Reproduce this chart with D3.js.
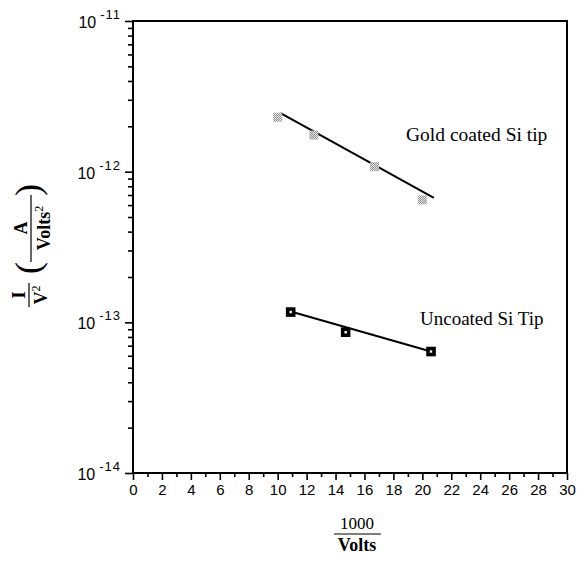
<!DOCTYPE html>
<html>
<head>
<meta charset="utf-8">
<script src="https://cdn.jsdelivr.net/npm/d3@7"></script>
<style>
  body { margin: 0; background: #fff; }
  svg { display: block; }
</style>
</head>
<body>
<svg id="chart" width="580" height="562"></svg>
<script>
// data
var goldX = [10.0, 12.5, 16.7, 20.0]
var goldY = [2.3e-12, 1.75e-12, 1.08e-12, 6.5e-13]
var goldFitX = [10.2, 20.8]
var goldFitY = [2.45e-12, 6.7e-13]

var uncX = [10.9, 14.7, 20.6]
var uncY = [1.17e-13, 8.6e-14, 6.4e-14]
var uncFitX = [10.9, 20.6]
var uncFitY = [1.18e-13, 6.4e-14]

var xTicks = [0, 2, 4, 6, 8, 10, 12, 14, 16, 18, 20, 22, 24, 26, 28, 30]
var yExponents = [-14, -13, -12, -11]

// note: "top" is a read-only window global, so use other names
var svg = d3.select("#chart"),
    plotL = 133, plotR = 567, plotT = 21, plotB = 473

var x = d3.scaleLinear().domain([0, 30]).range([plotL, plotR])
var y = d3.scaleLog().domain([1e-14, 1e-11]).range([plotB, plotT])

// hatch pattern for gold markers
var defs = svg.append("defs")
var pat = defs.append("pattern")
  .attr("id", "hatch").attr("width", 2).attr("height", 2)
  .attr("patternUnits", "userSpaceOnUse")
pat.append("rect").attr("width", 2).attr("height", 2).attr("fill", "#e6e6e6")
pat.append("rect").attr("width", 1).attr("height", 1).attr("fill", "#909090")
pat.append("rect").attr("x", 1).attr("y", 1).attr("width", 1).attr("height", 1).attr("fill", "#909090")

// minor + major ticks on y
var yMinor = []
for (var e = -14; e < -11; e++) {
  for (var m = 2; m <= 9; m++) yMinor.push(m * Math.pow(10, e))
}
var yMajor = yExponents.map(function(e) { return Math.pow(10, e) })

svg.append("g")
  .attr("transform", "translate(" + plotL + ",0)")
  .call(d3.axisLeft(y).tickValues(yMinor).tickSize(5).tickFormat(""))
  .call(function(g) { g.select(".domain").remove() })
  .selectAll("line").attr("stroke-width", 1.6)

svg.append("g")
  .attr("transform", "translate(" + plotL + ",0)")
  .call(d3.axisLeft(y).tickValues(yMajor).tickSize(8).tickFormat(""))
  .call(function(g) { g.select(".domain").remove() })
  .selectAll("line").attr("stroke-width", 1.6)

// y tick labels 10^n
var ylab = svg.append("g")
  .selectAll("text")
  .data(yExponents)
  .enter()
  .append("text")
  .attr("x", 121)
  .attr("y", function(d) { return y(Math.pow(10, d)) + 7 })
  .attr("text-anchor", "end")
  .attr("font-family", "'Liberation Sans', Arial, sans-serif")
  .attr("font-size", "16px")
ylab.append("tspan").text("10")
ylab.append("tspan")
  .attr("dx", 4).attr("dy", -9)
  .attr("font-size", "13px")
  .attr("letter-spacing", "1px")
  .text(function(d) { return d })

// x ticks
var xMinor = d3.range(1, 30, 2)
svg.append("g")
  .attr("transform", "translate(0," + plotB + ")")
  .call(d3.axisBottom(x).tickValues(xMinor).tickSize(4).tickFormat(""))
  .call(function(g) { g.select(".domain").remove() })
  .selectAll("line").attr("stroke-width", 1.6)

svg.append("g")
  .attr("transform", "translate(0," + plotB + ")")
  .call(d3.axisBottom(x).tickValues(xTicks).tickSize(7).tickPadding(4))
  .call(function(g) { g.select(".domain").remove() })
  .call(function(g) {
    g.selectAll("line").attr("stroke-width", 1.6)
    g.selectAll("text")
      .attr("font-family", "'Liberation Sans', Arial, sans-serif")
      .attr("font-size", "15px")
      .attr("fill", "#000")
  })

// frame
svg.append("rect")
  .attr("x", plotL).attr("y", plotT)
  .attr("width", plotR - plotL).attr("height", plotB - plotT)
  .attr("fill", "none").attr("stroke", "#000").attr("stroke-width", 2)

var line = d3.line()
  .x(function(d) { return x(d[0]) })
  .y(function(d) { return y(d[1]) })

// gold coated
svg.append("path")
  .datum(d3.zip(goldFitX, goldFitY))
  .attr("d", line)
  .attr("fill", "none").attr("stroke", "#000").attr("stroke-width", 2)

svg.selectAll(".gold")
  .data(d3.zip(goldX, goldY))
  .enter()
  .append("rect")
  .attr("class", "gold")
  .attr("x", function(d) { return x(d[0]) - 4.5 })
  .attr("y", function(d) { return y(d[1]) - 4.5 })
  .attr("width", 9).attr("height", 9)
  .attr("fill", "url(#hatch)")

// uncoated
svg.append("path")
  .datum(d3.zip(uncFitX, uncFitY))
  .attr("d", line)
  .attr("fill", "none").attr("stroke", "#000").attr("stroke-width", 2)

svg.selectAll(".unc")
  .data(d3.zip(uncX, uncY))
  .enter()
  .append("rect")
  .attr("class", "unc")
  .attr("x", function(d) { return x(d[0]) - 3 })
  .attr("y", function(d) { return y(d[1]) - 3 })
  .attr("width", 6).attr("height", 6)
  .attr("fill", "#fff").attr("stroke", "#000").attr("stroke-width", 3.6)

// annotations
var serif = "'Liberation Serif', 'Times New Roman', serif"
svg.append("text")
  .attr("x", 406).attr("y", 141)
  .attr("font-family", serif).attr("font-size", "19.5px")
  .text("Gold coated Si tip")
svg.append("text")
  .attr("x", 420).attr("y", 325)
  .attr("font-family", serif).attr("font-size", "19px")
  .text("Uncoated Si Tip")

// x axis label: 1000 / Volts
svg.append("text")
  .attr("x", 357).attr("y", 529)
  .attr("text-anchor", "middle")
  .attr("font-family", serif).attr("font-size", "17px")
  .text("1000")
svg.append("line")
  .attr("x1", 334).attr("x2", 381)
  .attr("y1", 534).attr("y2", 534)
  .attr("stroke", "#000").attr("stroke-width", 1.2)
svg.append("text")
  .attr("x", 357).attr("y", 551)
  .attr("text-anchor", "middle")
  .attr("font-family", serif).attr("font-size", "18px").attr("font-weight", "bold")
  .text("Volts")

// y axis label: I/V^2 (A/Volts^2), rotated
var yl = svg.append("g").attr("transform", "rotate(-90)")
  .attr("font-family", serif)

yl.append("text")
  .attr("x", -295).attr("y", 25)
  .attr("text-anchor", "middle")
  .attr("font-size", "19px").attr("font-weight", "bold")
  .text("I")
yl.append("line")
  .attr("x1", -307).attr("x2", -283)
  .attr("y1", 29).attr("y2", 29)
  .attr("stroke", "#000").attr("stroke-width", 1.2)
var v2 = yl.append("text")
  .attr("x", -295).attr("y", 47)
  .attr("text-anchor", "middle")
  .attr("font-size", "18px")
v2.append("tspan").attr("font-weight", "bold").text("V")
v2.append("tspan").attr("dy", -7).attr("font-size", "12px").text("2")

yl.append("text")
  .attr("x", -268).attr("y", 40)
  .attr("text-anchor", "middle")
  .attr("font-size", "36px")
  .text("(")
yl.append("text")
  .attr("x", -190).attr("y", 40)
  .attr("text-anchor", "middle")
  .attr("font-size", "36px")
  .text(")")

yl.append("text")
  .attr("x", -228).attr("y", 27)
  .attr("text-anchor", "middle")
  .attr("font-size", "18px").attr("font-weight", "bold")
  .text("A")
yl.append("line")
  .attr("x1", -262).attr("x2", -195)
  .attr("y1", 31).attr("y2", 31)
  .attr("stroke", "#000").attr("stroke-width", 1.2)
var vt = yl.append("text")
  .attr("x", -228).attr("y", 50)
  .attr("text-anchor", "middle")
  .attr("font-size", "18px").attr("font-weight", "bold")
vt.append("tspan").text("Volts")
vt.append("tspan").attr("dy", -7).attr("font-size", "12px").attr("font-weight", "normal").text("2")
</script>
</body>
</html>
